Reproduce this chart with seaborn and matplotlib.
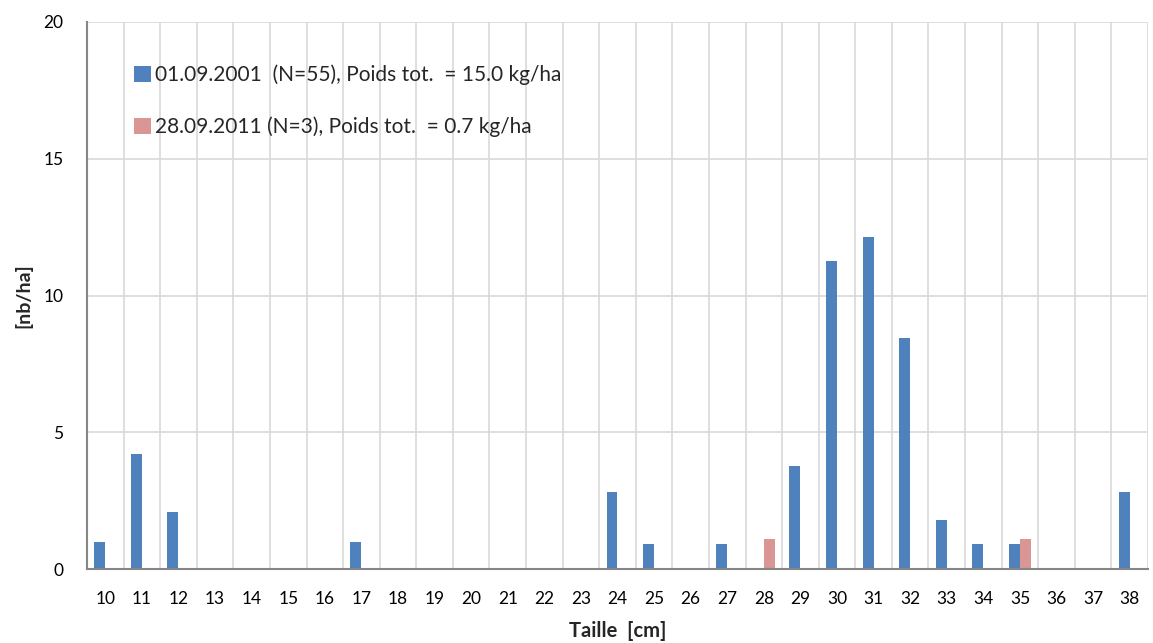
import matplotlib
matplotlib.use("Agg")
import matplotlib.pyplot as plt
import seaborn as sns
import pandas as pd
import numpy as np

sizes = [str(s) for s in range(10, 39)]
blue_vals = {"10": 1.0, "11": 4.2, "12": 2.1, "17": 1.0, "24": 2.8, "25": 0.9,
             "27": 0.9, "29": 3.75, "30": 11.25, "31": 12.15, "32": 8.45,
             "33": 1.8, "34": 0.9, "35": 0.9, "38": 2.8}
pink_vals = {"28": 1.1, "35": 1.1}
series_labels = ["01.09.2001  (N=55), Poids tot.  = 15.0 kg/ha",
                 "28.09.2011 (N=3), Poids tot.  = 0.7 kg/ha"]
colors = ["#4F81BD", "#D99694"]

rows = []
for s in sizes:
    rows.append({"Taille": s, "serie": series_labels[0], "val": blue_vals.get(s, 0.0)})
    rows.append({"Taille": s, "serie": series_labels[1], "val": pink_vals.get(s, 0.0)})
df = pd.DataFrame(rows)

sns.set_style("white")
plt.rcParams['font.family'] = ['Lato', 'DejaVu Sans']

fig = plt.figure(figsize=(11.53, 6.43), dpi=100)
ax = fig.add_axes([87/1153, 74/643, (1148-87)/1153, (569-22)/643])

sns.barplot(data=df, x="Taille", y="val", hue="serie", order=sizes,
            hue_order=series_labels, palette=colors, width=0.6,
            saturation=1, ax=ax, linewidth=0, errorbar=None)

ax.set_ylim(0, 20)
ax.set_xlim(-0.5, len(sizes) - 0.5)
ax.set_yticks([0, 5, 10, 15, 20])
ax.set_xticks(np.arange(len(sizes)))
ax.set_xticklabels(sizes)
ax.set_xticks(np.arange(len(sizes) + 1) - 0.5, minor=True)
ax.grid(False)
ax.grid(True, axis="y", which="major", color="#D9D9D9", linewidth=1.2)
ax.grid(True, axis="x", which="minor", color="#D9D9D9", linewidth=1.2)
ax.set_axisbelow(True)
ax.tick_params(axis="both", which="both", length=0, labelsize=12.5, colors="black")
ax.tick_params(axis="x", pad=16)
ax.tick_params(axis="y", pad=17)

for side in ["top", "right"]:
    ax.spines[side].set_visible(False)
for side in ["left", "bottom"]:
    ax.spines[side].set_color("#868686")
    ax.spines[side].set_linewidth(1.5)

ax.set_xlabel("Taille  [cm]", fontsize=14.5, fontweight="bold", labelpad=10)
ax.set_ylabel("[nb/ha]", fontsize=14, fontweight="bold", labelpad=8)

leg = ax.legend(loc="upper left", bbox_to_anchor=(0.027, 0.956), frameon=False,
                fontsize=15, handlelength=0.8, handleheight=0.8,
                handletextpad=0.2, labelspacing=1.5, title=None)

fig.savefig("out.png", dpi=100)
